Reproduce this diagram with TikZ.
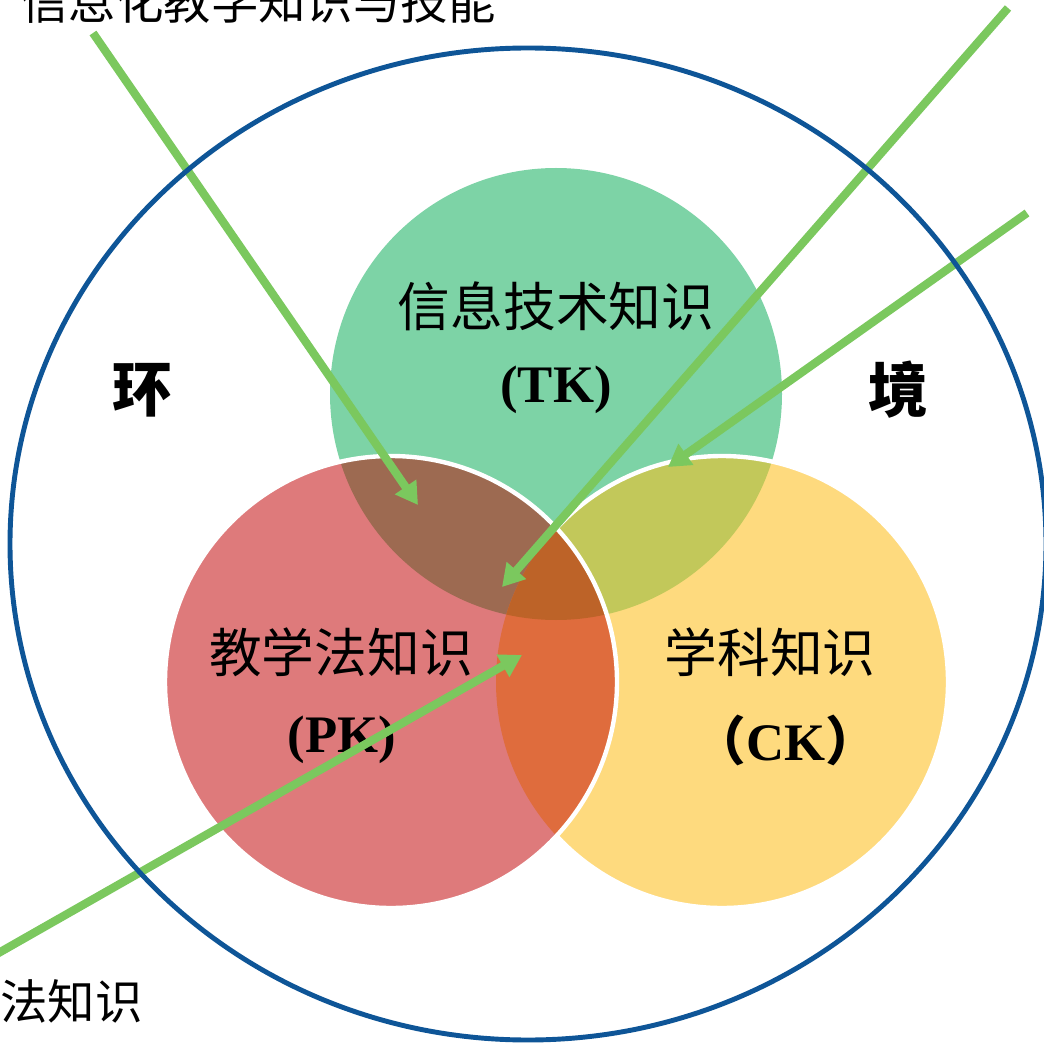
\documentclass[tikz,border=0pt]{standalone}
\usepackage{fontspec}
\setmainfont{Liberation Serif}
\newfontfamily\cjk{Noto Sans CJK SC}
\usepackage{xcolor}
\usetikzlibrary{arrows.meta}

\definecolor{tkgreen}{HTML}{7DD3A6}
\definecolor{pkred}{HTML}{DE7A7B}
\definecolor{ckyellow}{HTML}{FEDA7E}
\definecolor{tpkbrown}{HTML}{9D6A51}
\definecolor{tckolive}{HTML}{C2C85A}
\definecolor{pckorange}{HTML}{DF6C3D}
\definecolor{tpckcore}{HTML}{BD6328}
\definecolor{envblue}{HTML}{0E5597}
\definecolor{ptrgreen}{HTML}{7BC85E}

\begin{document}
\begin{tikzpicture}[x=0.02cm,y=-0.02cm,
  lbl/.style={inner sep=0pt,font=\cjk\fontsize{30}{36}\selectfont},
  abbr/.style={inner sep=0pt,font=\bfseries\fontsize{30}{36}\selectfont},
  env/.style={inner sep=0pt,font=\cjk\bfseries\fontsize{34}{40}\selectfont},
  note/.style={inner sep=0pt,font=\cjk\fontsize{27}{32}\selectfont},
  ptr/.style={draw=ptrgreen,line width=4.7pt,-{Triangle[length=12.5pt,width=14pt]}},
  rim/.style={draw=white,line width=2.5pt}]
\useasboundingbox (0,0) rectangle (1044,1043);
%
\coordinate (tk) at (556,394);
\coordinate (pk) at (391,682);
\coordinate (ck) at (722,682);
%
\fill[tkgreen] (tk) circle[radius=226];
\fill[ckyellow] (ck) circle[radius=226];
\begin{scope}
\clip (tk) circle[radius=226];
\fill[tckolive] (ck) circle[radius=226];
\end{scope}
\draw[rim] (ck) circle[radius=226];
\fill[pkred] (pk) circle[radius=226];
\begin{scope}
\clip (pk) circle[radius=226];
\fill[tpkbrown] (tk) circle[radius=226];
\fill[pckorange] (ck) circle[radius=226];
\clip (tk) circle[radius=226];
\fill[tpckcore] (ck) circle[radius=226];
\end{scope}
\draw[rim] (pk) circle[radius=226];
%
\node[lbl] (tktext) at (556,306) {信息技术知识};
\node[abbr] (tkabbr) at (556,390) {(TK)};
\node[lbl] (pktext) at (341,652) {教学法知识};
\node[abbr] (pkabbr) at (342,740) {(PK)};
\node[lbl] (cktext) at (770,652) {学科知识};
\node[abbr] (ckabbr) at (786,740) {{\cjk （}CK{\cjk ）}};
\node[env] (huan) at (142,390) {环};
\node[env] (jing) at (898,390) {境};
\node[note,anchor=base west] (tpknote) at (21,20) {信息化教学知识与技能};
\node[note,anchor=base west] (pcknote) at (0,1019) {法知识};
%
\coordinate (tpkfrom) at (93,33);
\coordinate (tpkto) at (418,505);
\coordinate (tpckfrom) at (1008,8);
\coordinate (tpckto) at (502,587);
\coordinate (tckfrom) at (1027,213);
\coordinate (tckto) at (668,467);
\coordinate (pckfrom) at (-5,955);
\coordinate (pckto) at (522,655);
\draw[ptr] (tpkfrom) -- (tpkto);
\draw[ptr] (tpckfrom) -- (tpckto);
\draw[ptr] (tckfrom) -- (tckto);
\draw[ptr] (pckfrom) -- (pckto);
%
\draw[envblue,line width=2.8pt] (528,544) ellipse [x radius=518,y radius=496];
\end{tikzpicture}
\end{document}
